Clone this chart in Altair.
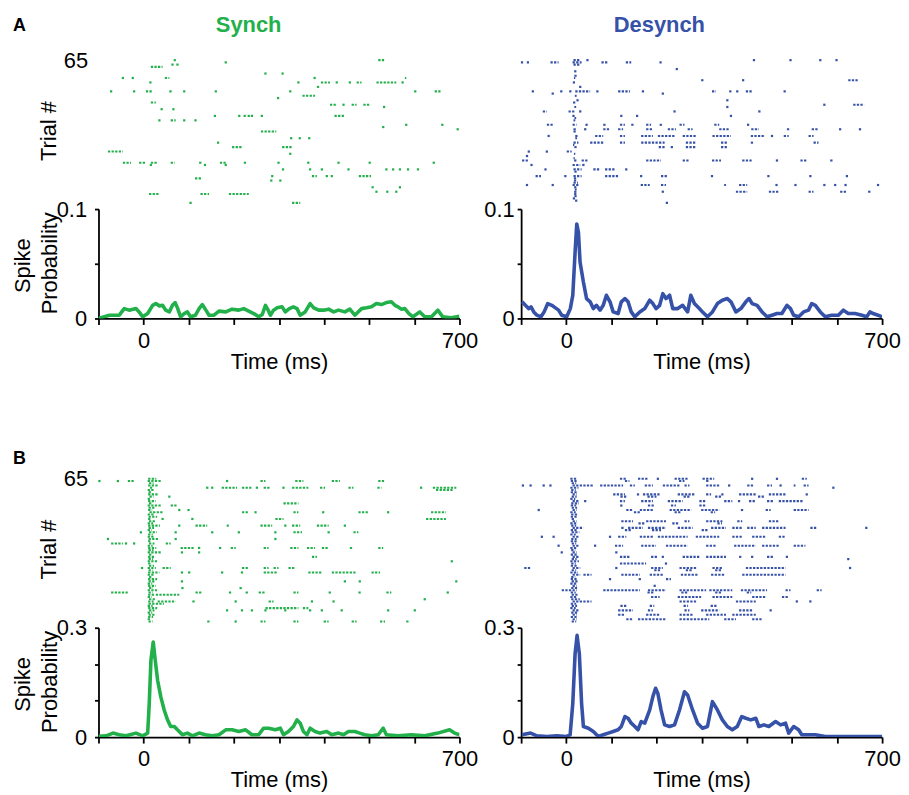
import altair as alt
import pandas as pd

GREEN = "#22b04b"
BLUE = "#3651a8"
FONT = "Liberation Sans"

X_TICKS = [-100, 0, 100, 200, 300, 400, 500, 600, 700]
Y_TICKS_A = [0, 0.05, 0.1]
Y_TICKS_B = [0, 0.1, 0.2, 0.3]

# ---------------- PSTH curves (time ms, spike probability) ----------------
A_SYNCH_PSTH = [(-100,0),(-76,0.003),(-54,0.003),(-43,0.009),(-32,0.0076),(-17,0.009),(-10,0.006),(-2,0.0015),(9,0.0045),(20,0.012),
 (27,0.0136),(35,0.0115),(42,0.012),(49,0.0076),(57,0.006),(64,0.012),(70,0.0145),(75,0.0097),(82,0.0015),(90,0.0045),
 (97,0.006),(104,0.0015),(115,0.003),(123,0.009),(130,0.0127),(138,0.0076),(145,0.003),(156,0.003),(167,0.0067),(182,0.006),
 (196,0.0085),(211,0.0076),(222,0.009),(233,0.0067),(244,0.0045),(255,0.0015),(263,0.0036),(270,0.012),(276,0.0076),(281,0.003),
 (288,0.0076),(296,0.0097),(307,0.0106),(314,0.006),(323,0.009),(332,0.0106),(340,0.009),(347,0.003),(358,0.006),(369,0.0136),
 (377,0.0097),(388,0.0076),(399,0.0076),(410,0.0085),(421,0.006),(432,0.0076),(446,0.006),(457,0.0085),(468,0.003),(483,0.009),
 (494,0.0097),(505,0.0106),(516,0.0136),(527,0.0127),(538,0.0145),(549,0.0152),(557,0.012),(564,0.0106),(571,0.0085),(579,0.009),
 (588,0.0045),(597,0.0015),(612,0.006),(623,0.0015),(638,0.0015),(652,0.0076),(663,0.0015),(682,0.0006),(700,0.002)]

A_DESYNCH_PSTH = [(-98,0.0152),(-90.5,0.012),(-83,0.009),(-78,0.0106),(-72,0.006),(-65,0.003),(-56,0.0015),(-49,0.006),(-41,0.0136),(-32,0.012),
 (-24,0.0097),(-17,0.0076),(-10,0.003),(1,0.0015),(9,0.009),(14.5,0.0212),(19.6,0.0606),(23.3,0.0864),(27,0.0788),(30.6,0.0515),
 (38,0.0333),(45,0.0182),(53,0.0152),(60,0.009),(67,0.012),(75,0.0076),(82,0.012),(89,0.0212),(97,0.0152),(104,0.006),
 (115,0.0045),(122,0.0152),(130,0.0182),(137,0.0152),(144,0.006),(152,0.0015),(163,0.006),(174,0.009),(185,0.0167),(192,0.0136),
 (199,0.009),(207,0.012),(214,0.0227),(221,0.0182),(229,0.0212),(236,0.009),(247,0.009),(258,0.012),(269,0.006),(276,0.0212),
 (284,0.0136),(295,0.009),(302,0.006),(313,0.0015),(324,0.006),(335,0.0136),(346,0.0167),(357,0.0182),(365,0.0152),(376,0.006),
 (387,0.009),(398,0.0152),(405,0.0182),(412,0.0136),(423,0.012),(434,0.006),(445,0.0015),(456,0.003),(467,0.0045),(478,0.0045),
 (489,0.012),(497,0.009),(504,0.003),(515,0.0015),(526,0.006),(537,0.0076),(544,0.0136),(552,0.012),(563,0.006),(574,0.0015),
 (588,0.003),(603,0.003),(614,0.0076),(625,0.0045),(640,0.0045),(655,0.003),(666,0.0015),(673,0.006),(680,0.0045),(691,0.003),(700,0.0015)]

B_SYNCH_PSTH = [(-100,0.002),(-83,0.0036),(-68,0.011),(-54,0.0064),(-39,0.0036),(-17,0.011),(-2,0.0036),(9,0.011),(12.5,0.0927),(16.2,0.211),
 (21.3,0.261),(25.7,0.211),(31,0.156),(38,0.111),(45.6,0.0745),(53,0.0473),(60,0.0291),(68,0.0291),(75,0.02),(86,0.0064),
 (97,0.011),(108,0.0036),(123,0.011),(137,0.0064),(152,0.0036),(167,0.0064),(182,0.02),(196,0.02),(211,0.0155),(226,0.02),
 (240,0.0064),(255,0.0064),(266,0.0245),(277,0.0245),(292,0.02),(303,0.0245),(310,0.0064),(321,0.0155),(332,0.0291),(340,0.0473),
 (347,0.0382),(354,0.0155),(362,0.0064),(369,0.0245),(380,0.0155),(391,0.011),(406,0.0155),(417,0.0064),(432,0.011),(443,0.0064),
 (454,0.0155),(468,0.0155),(479,0.011),(490,0.0064),(505,0.0036),(520,0.0064),(531,0.0245),(538,0.0064),(564,0.0036),(593,0.0064),
 (623,0.0036),(652,0.011),(678,0.02),(689,0.011),(700,0.0064)]

B_DESYNCH_PSTH = [(-98,0.0064),(-79,0.011),(-65,0.0036),(-43,0.0018),(-21,0.0036),(1,0.0018),(8.6,0.0064),(14.5,0.0927),(19.6,0.229),(24,0.279),
 (29,0.229),(34,0.0927),(38,0.0291),(49,0.0245),(60,0.0155),(71,0.0018),(82,0.0064),(93,0.011),(104,0.0155),(115,0.02),
 (122,0.0291),(130,0.0564),(137,0.0518),(144,0.0382),(152,0.0291),(159,0.02),(166,0.0427),(174,0.0382),(185,0.0745),(192,0.111),
 (198,0.134),(203,0.12),(210,0.0745),(218,0.0336),(229,0.0291),(240,0.0336),(251,0.0745),(262,0.1245),(269,0.1155),(280,0.0745),
 (291,0.0382),(302,0.0245),(313,0.0291),(324,0.0973),(335,0.0745),(346,0.0473),(357,0.0291),(368,0.02),(379,0.0291),(389,0.0564),
 (398,0.0518),(409,0.0473),(420,0.0518),(427,0.0291),(438,0.0336),(449,0.0291),(464,0.0427),(475,0.0336),(486,0.0382),(493,0.011),
 (504,0.0291),(515,0.02),(522,0.0064),(533,0.0064),(552,0.0064),(574,0.0018),(625,0.0018),(662,0.0018),(700,0.0018)]

# ---------------- Rasters: (trial, burst start ms, burst end ms) ----------------
A_SYNCH_RASTER = [
 (65,520,534),(65,69,69),(64,182,182),(63,64,64),(63,75,75),(62,16,42),
 (59,270,270),(59,308,308),
 (57,-46,-46),(57,-24,-24),(57,47,57),(57,379,379),(57,579,582),
 (55,15,15),(55,343,343),(55,393,413),(55,428,428),(55,457,457),(55,472,483),(55,516,560),(55,574,574),
 (53,384,391),
 (51,-72,-72),(51,-21,-21),(51,5,18),(51,57,65),(51,90,90),(51,160,160),(51,325,325),(51,602,602),(51,645,660),
 (49,352,380),(48,298,298),(46,16,27),
 (45,413,428),(45,443,443),(45,461,472),(45,487,501),
 (44,533,533),(43,40,40),(43,66,66),
 (40,158,158),(40,212,212),(40,224,224),(40,233,233),(40,240,240),(40,262,262),(40,423,446),
 (38,35,35),(38,60,71),(38,90,90),(38,115,115),
 (36,582,582),(36,662,662),(35,531,531),(34,696,696),
 (33,260,294),
 (30,327,327),(30,346,346),(30,367,367),
 (28,165,165),
 (26,196,218),(26,307,329),
 (24,-79,-46),(23,325,325),
 (19,-46,-28),(19,-10,5),(19,16,31),(19,60,69),(19,123,130),(19,169,185),(19,222,229),(19,299,299),(19,365,365),(19,432,432),(19,501,501),(19,643,643),
 (18,16,16),(18,136,136),(18,182,182),
 (16,309,309),(16,369,369),(16,395,395),(16,454,454),(16,538,538),(16,553,553),(16,568,568),(16,586,586),(16,608,608),
 (13,285,285),(13,373,384),(13,406,406),(13,417,417),(13,477,504),
 (12,114,130),(11,283,283),(11,303,303),
 (8,505,512),(8,568,568),
 (6,516,516),(6,540,540),(6,560,560),
 (5,12,35),(5,126,145),(5,189,233),
 (1,104,104),(1,329,347),
]

A_DESYNCH_RASTER = [
 (65,16,31),(65,47,47),(65,416,416),(65,497,497),(65,563,563),(65,599,599),
 (64,-98,-98),(64,-85,-85),(64,-35,-17),(64,14,34),(64,78,93),(64,132,144),(64,209,209),
 (63,16,31),(61,245,245),(60,20,20),(58,18,25),(57,17,20),
 (56,299,305),(56,392,392),(56,625,647),
 (55,17,17),(53,31,31),
 (51,-74,-74),(51,-11,-11),(51,9,9),(51,20,53),(51,69,69),(51,115,141),(51,170,170),(51,323,332),(51,361,368),(51,379,379),(51,398,412),(51,484,484),
 (50,-30,-30),(50,214,214),(49,19,23),
 (47,25,25),(47,357,357),(46,15,22),
 (45,572,572),(45,636,660),
 (44,357,357),(44,18,22),
 (42,-52,-43),(42,5,20),(42,31,31),(42,240,240),(42,428,428),
 (40,16,16),(40,122,122),(40,157,157),(40,365,365),
 (39,18,22),(38,16,20),
 (36,-43,-27),(36,14,23),(36,45,45),(36,82,89),(36,119,130),(36,144,152),(36,177,188),(36,207,214),(36,251,262),(36,328,339),(36,403,403),
 (34,16,23),(34,42,42),(34,82,97),(34,115,126),(34,177,192),(34,225,243),(34,269,280),(34,339,361),(34,410,427),(34,489,497),(34,544,559),(34,607,607),(34,651,651),
 (33,16,21),
 (31,-39,-39),(31,20,27),(31,64,82),(31,119,130),(31,166,192),(31,203,240),(31,258,288),(31,324,365),(31,409,438),(31,456,456),(31,482,493),(31,537,548),
 (30,20,24),
 (28,16,27),(28,53,82),(28,119,130),(28,166,218),(28,265,288),(28,343,357),(28,409,416),(28,548,559),
 (27,15,18),
 (26,205,218),(26,234,234),(26,265,288),(26,343,357),(26,18,23),
 (24,-83,-83),(24,-43,-43),(24,1,12),(23,17,20),
 (22,-87,-87),(21,16,19),
 (20,-98,-83),(20,20,20),(20,34,49),(20,177,210),(20,258,273),(20,323,343),(20,390,412),(20,467,467),(20,519,533),(20,585,592),
 (18,-77,-77),(18,14,31),(18,38,38),
 (16,-46,-46),(16,60,75),(16,86,108),(16,133,133),(16,16,34),(15,18,24),
 (13,-68,-56),(13,-2,-2),(13,16,34),(13,86,115),(13,166,166),(13,210,225),(13,323,323),(13,448,448),(13,541,541),(13,622,622),
 (12,17,22),(11,17,22),(10,16,26),
 (9,-87,-87),(9,-30,-30),(9,14,27),(9,165,185),(9,210,221),(9,350,354),(9,383,401),(9,466,466),(9,508,508),(9,572,572),(9,596,596),(9,619,619),(9,691,691),
 (8,20,20),(7,19,23),
 (6,20,20),(6,214,214),(6,376,401),(6,449,471),(6,537,548),(6,607,622),(6,669,676),
 (5,20,20),(4,18,25),(3,17,17),(2,22,22),(1,223,223),
]

B_SYNCH_RASTER = [
 # early response column
 (65,10,28),(64,9,40),(63,12,22),(62,10,31),(61,14,20),(60,9,25),(59,11,18),(58,10,34),(57,13,22),(56,9,16),
 (55,10,27),(54,12,20),(53,9,38),(52,11,24),(51,10,19),(50,13,44),(49,9,22),(48,11,30),(47,10,17),(46,12,26),
 (45,9,21),(44,10,36),(43,11,23),(42,9,18),(41,12,29),(40,10,20),(39,9,25),(38,11,33),(37,10,17),(36,12,24),
 (35,9,20),(34,10,28),(33,11,22),(32,9,40),(31,12,19),(30,10,26),(29,11,21),(28,9,31),(27,10,18),(26,12,23),
 (25,9,27),(24,11,20),(23,10,35),(22,9,22),(21,12,18),(20,10,30),(19,11,24),(18,9,19),(17,10,27),(16,12,21),
 (15,9,33),(14,11,20),(13,10,25),(12,9,18),(11,12,28),(10,10,22),(9,11,45),(8,9,20),(7,10,30),(6,12,24),
 (5,9,19),(4,11,26),(3,10,21),(2,9,17),(1,11,20),
 # remaining spikes
 (64,-98,-98),(64,-57,-57),(64,-35,-21),(64,185,185),(64,259,270),(64,336,354),(64,417,435),(64,520,535),
 (61,141,141),(61,152,152),(61,173,207),(61,218,240),(61,251,251),(61,266,281),(61,310,310),(61,329,365),(61,391,402),(61,454,465),(61,518,527),(61,615,615),(61,641,693),
 (60,648,685),
 (57,57,57),(54,310,343),(53,60,75),(51,79,79),(51,97,104),
 (50,218,233),(50,248,248),(50,332,343),(50,398,398),(50,476,498),(50,542,542),(50,637,670),
 (47,42,42),(47,108,108),(47,292,310),(47,626,670),
 (44,79,79),(44,115,141),(44,184,189),(44,259,285),(44,314,314),(44,329,347),(44,384,410),(44,446,446),
 (41,-6,-6),(41,71,71),(41,152,152),(41,211,211),(41,292,292),(41,332,351),(41,410,410),(41,465,476),
 (38,-79,-79),(38,71,71),(38,292,292),
 (36,-72,-46),(36,-39,-39),(36,-21,-21),(36,49,60),
 (34,82,112),(34,123,123),(34,167,174),(34,193,204),(34,266,277),(34,325,343),(34,362,380),(34,395,410),(34,457,465),(34,520,531),
 (32,85,85),(32,123,123),(30,373,384),(28,683,683),
 (25,-6,1),(25,42,60),(25,218,233),(25,266,277),(25,288,299),(25,321,336),
 (23,85,85),(23,101,101),(23,174,174),(23,218,218),(23,266,296),(23,365,395),(23,417,472),(23,505,524),
 (19,85,85),(19,446,446),(19,479,479),(19,693,693),
 (16,86,86),(16,215,215),
 (14,-72,-35),(14,115,130),(14,189,196),(14,226,233),(14,255,270),(14,332,343),(14,410,417),(14,476,483),(14,538,549),(14,674,674),
 (13,27,79),(11,623,623),
 (10,31,71),(10,108,115),(10,204,204),(10,277,288),(10,373,373),(10,421,421),
 (7,270,343),(7,353,365),
 (6,185,185),(6,218,218),(6,240,240),(6,270,270),(6,314,314),(6,369,369),(6,395,395),(6,439,439),(6,542,542),(6,601,601),
 (1,141,149),(1,204,204),(1,259,270),(1,332,343),(1,399,410),(1,461,472),(1,524,535),(1,582,590),
]

B_DESYNCH_RASTER = [
 # early response column
 (64,10,24),(63,12,22),(61,9,27),(60,11,21),(59,10,25),(57,12,23),(56,9,20),(54,11,28),(53,10,22),(52,12,24),
 (50,9,21),(49,11,26),(48,10,23),(47,12,20),(45,9,25),(44,11,22),(42,10,24),(41,12,29),(40,9,21),(38,11,23),
 (37,10,26),(36,12,22),(34,9,24),(33,11,20),(31,10,25),(29,12,23),(28,9,28),(27,11,21),(26,10,24),(24,12,22),
 (23,9,26),(21,11,20),(20,10,23),(19,12,25),(18,9,22),(16,11,24),(14,10,21),(13,12,26),(12,9,23),(11,11,30),
 (9,10,22),(8,12,24),(7,9,21),(5,11,25),(3,10,23),(1,12,22),
 # remaining spikes
 (65,9,23),(65,119,133),(65,159,181),(65,203,203),(65,240,269),(65,302,328),(65,412,412),(65,467,467),(65,522,533),
 (64,130,140),(64,250,262),(64,310,318),
 (62,-96,-96),(62,-79,-79),(62,-50,-50),(62,-35,-35),(62,14,60),(62,75,126),(62,141,152),(62,174,192),(62,214,251),(62,262,273),(62,310,339),(62,361,361),(62,401,416),(62,445,456),(62,475,475),(62,504,508),(62,526,537),(61,592,592),
 (58,14,23),(58,104,130),(58,159,159),(58,170,207),(58,247,284),(58,310,321),(58,346,346),(58,383,420),(58,449,486),(58,533,533),
 (57,120,135),(57,180,200),(57,260,275),(57,330,345),(57,425,440),
 (55,14,27),(55,42,42),(55,119,130),(55,166,192),(55,225,258),(55,295,310),(55,350,368),(55,383,383),(55,405,420),(55,445,460),(55,471,526),
 (53,122,122),(53,181,196),(53,232,243),(53,295,310),
 (51,-61,-61),(51,14,23),(51,133,148),(51,163,192),(51,229,277),(51,299,339),(51,387,394),(51,442,453),(51,504,537),
 (50,150,165),(50,240,255),(50,320,330),
 (46,14,23),(46,122,148),(46,177,221),(46,262,273),(46,310,346),(46,379,390),(46,449,471),
 (45,160,175),(45,235,248),(45,335,345),
 (43,14,38),(43,122,130),(43,137,170),(43,181,221),(43,247,280),(43,321,354),(43,368,390),(43,401,420),(43,434,486),(43,541,555),(43,665,665),
 (42,130,145),(42,190,210),(42,300,315),
 (39,-54,-54),(39,-28,-28),(39,14,27),(39,97,97),(39,115,133),(39,163,192),(39,203,269),(39,287,339),(39,368,390),(39,412,442),(39,471,486),
 (35,-17,-17),(35,14,27),(35,64,64),(35,108,126),(35,166,199),(35,221,269),(35,310,332),(35,372,420),(35,434,471),(35,504,530),
 (32,-10,-10),(32,14,23),(32,111,111),
 (30,14,27),(30,119,141),(30,188,203),(30,214,214),(30,258,295),(30,310,354),(30,383,390),(30,412,412),(30,445,460),(30,489,489),
 (29,625,625),
 (27,119,177),(27,221,221),
 (25,-93,-79),(25,14,31),(25,111,111),(25,188,214),(25,251,288),(25,324,346),(25,398,486),(25,629,629),
 (24,195,210),(24,265,280),(24,330,345),
 (22,14,31),(22,38,56),(22,122,163),(22,185,214),(22,254,291),(22,321,350),(22,390,486),
 (20,97,97),(20,163,163),(20,221,232),
 (17,14,23),(17,196,196),
 (15,-10,23),(15,82,163),(15,181,221),(15,251,310),(15,317,368),(15,387,445),(15,486,497),(15,555,566),
 (14,180,195),(14,255,270),(14,330,345),(14,400,410),
 (12,188,207),(12,247,299),(12,324,368),(12,412,441),(12,478,493),
 (10,14,56),(10,251,288),(10,376,420),(10,511,511),(10,541,541),
 (8,120,135),(8,185,195),(8,260,270),(8,320,335),
 (6,14,27),(6,115,148),(6,181,192),(6,262,273),(6,299,339),(6,383,412),(6,453,453),
 (4,14,23),(4,115,130),(4,177,207),(4,251,280),(4,310,354),(4,368,420),
 (2,14,23),(2,133,148),(2,159,221),(2,251,317),(2,350,376),(2,412,434),
]

# ---------------- layout constants ----------------
PANEL_W = 363
RASTER_H = 148
GAP = 4
PSTH_H = 110
PANEL_H = RASTER_H + GAP + PSTH_H

XSCALE = alt.Scale(domain=[-100, 700], nice=False, zero=False)
XAXIS = alt.Axis(values=X_TICKS,
                 labelExpr="datum.value == 0 ? '0' : (datum.value == 700 ? '700' : '')",
                 tickSize=6, labelPadding=6, labelFlush=False, labelOverlap=False, grid=False,
                 title="Time (ms)", titleFontSize=22, titleFontWeight="normal",
                 titleY=50, titleBaseline="alphabetic")


def raster_layer(segs, color, show_label):
    df = pd.DataFrame(segs, columns=["trial", "t0", "t1"])
    yaxis = (alt.Axis(values=[65], orient="left", ticks=False, tickSize=0, domain=False, grid=False,
                      labelPadding=11, labelFlush=False, title=None) if show_label else None)
    xenc = alt.X("t0:Q", scale=XSCALE, axis=XAXIS)
    yenc = alt.Y("trial:Q", scale=alt.Scale(domain=[0, 66], range=[RASTER_H, 0], nice=False, zero=False),
                 axis=yaxis)
    base = alt.Chart(df)
    rules = base.transform_filter("datum.t1 > datum.t0").mark_rule(
        color=color, strokeWidth=2.1, strokeDash=[2.3, 1.3]).encode(x=xenc, x2="t1:Q", y=yenc)
    dots = base.transform_filter("datum.t1 <= datum.t0").mark_square(
        color=color, size=5, opacity=1).encode(x=xenc, y=yenc)
    return alt.layer(rules, dots)


def psth_layer(pairs, color, ymax, yvals, top_label, pad):
    df = pd.DataFrame(pairs, columns=["t", "v"])
    yaxis = alt.Axis(values=yvals, orient="left",
                     labelExpr=f"datum.value == 0 ? '0' : (abs(datum.value - {ymax}) < 1e-9 ? '{top_label}' : '')",
                     tickSize=4, labelPadding=pad, grid=False, title=None, labelFlush=False)
    return alt.Chart(df).mark_line(color=color, strokeWidth=3.6, strokeJoin="round", clip=True).encode(
        x=alt.X("t:Q", scale=XSCALE, axis=XAXIS),
        y=alt.Y("v:Q", scale=alt.Scale(domain=[0, ymax], range=[PANEL_H, PANEL_H - PSTH_H], nice=False, zero=False),
                axis=yaxis))


def label(text, x, y, size=22, bold=False, color="black", angle=0, align="center", baseline="middle"):
    return alt.Chart(pd.DataFrame({"k": [0]})).mark_text(
        text=text, font=FONT, fontSize=size, fontWeight="bold" if bold else "normal",
        color=color, angle=angle, align=align, baseline=baseline).encode(x=alt.value(x), y=alt.value(y))


def panel(raster, line, texts):
    return alt.layer(raster, line, *texts).resolve_scale(y="independent").properties(
        width=PANEL_W, height=PANEL_H)


left_titles = [
    label("Trial #", -50, 73.5, angle=270),
    label("Spike", -76, 209, angle=270),
    label("Probability", -49, 206.5, angle=270),
]

pAS = panel(raster_layer(A_SYNCH_RASTER, GREEN, True),
            psth_layer(A_SYNCH_PSTH, GREEN, 0.1, Y_TICKS_A, "0.1", 8),
            left_titles + [label("A", -86, -26.7, size=18, bold=True, align="left", baseline="alphabetic"),
                           label("Synch", 151, -26.5, bold=True, color=GREEN, baseline="alphabetic")])
pAD = panel(raster_layer(A_DESYNCH_RASTER, BLUE, False),
            psth_layer(A_DESYNCH_PSTH, BLUE, 0.1, Y_TICKS_A, "0.1", 3),
            [label("Desynch", 139, -26.5, bold=True, color=BLUE, baseline="alphabetic")])
pBS = panel(raster_layer(B_SYNCH_RASTER, GREEN, True),
            psth_layer(B_SYNCH_PSTH, GREEN, 0.3, Y_TICKS_B, "0.3", 8),
            left_titles + [label("B", -86, -12.7, size=18, bold=True, align="left", baseline="alphabetic")])
pBD = panel(raster_layer(B_DESYNCH_RASTER, BLUE, False),
            psth_layer(B_DESYNCH_PSTH, BLUE, 0.3, Y_TICKS_B, "0.3", 3),
            [])

chart = alt.concat(pAS, pAD, pBS, pBD, columns=2, spacing={"row": 159, "column": 62},
                   bounds="flush").properties(
    padding={"left": 4, "top": 3, "right": 0, "bottom": 0}
).configure_view(stroke=None).configure_axis(
    labelFont=FONT, titleFont=FONT, labelFontSize=22, labelColor="black", titleColor="black",
    domainColor="black", tickColor="black", domainWidth=1.8, tickWidth=1.8
)

chart.save("out.html", embed_options={"renderer": "svg", "actions": False})
